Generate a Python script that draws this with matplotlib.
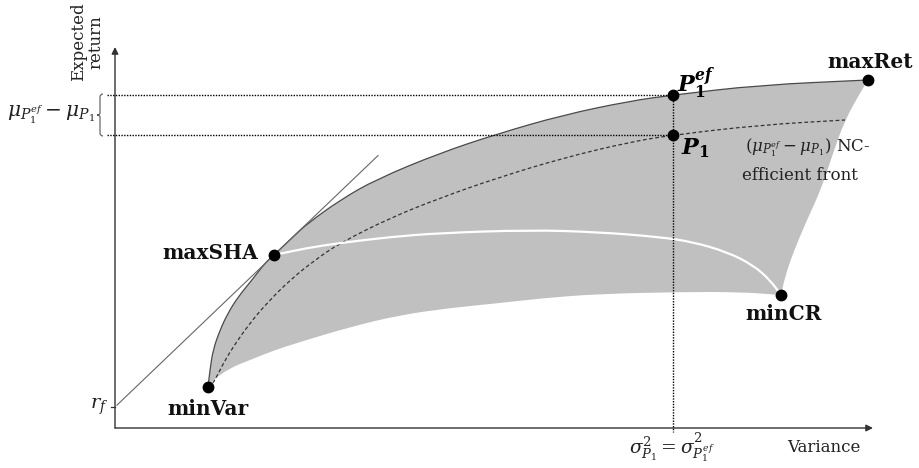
import numpy as np
import matplotlib
matplotlib.use("Agg")
import matplotlib.pyplot as plt
from matplotlib.path import Path
from matplotlib.patches import PathPatch

plt.rcParams['font.family'] = ['DejaVu Serif']
plt.rcParams['mathtext.fontset'] = 'dejavuserif'

# variance (x) and expected return (y), arbitrary units
upper_var = [93, 95, 98, 105, 113, 123, 137, 150, 159, 180, 192, 225, 262, 325, 382, 448, 515, 558, 645, 753]
upper_ret = [41, 58, 78, 98, 115, 131, 148, 165, 173, 193, 204, 228, 249, 275, 294, 313, 327, 333, 343, 348]

right_var = [753, 745, 730, 718, 707, 692, 678, 670, 666]
right_ret = [348, 335, 308, 275, 241, 208, 175, 151, 133]

lower_var = [93, 98, 115, 135, 160, 185, 235, 285, 335, 385, 430, 482, 565, 625, 666]
lower_ret = [41, 48, 60, 68, 78, 86, 101, 113, 120, 125, 130, 134, 136, 136, 133]

nc_var = [93, 97, 100, 108, 118, 135, 152, 175, 200, 225, 275, 325, 382, 448, 515, 558, 645, 730]
nc_ret = [41, 44, 48, 64, 81, 105, 125, 148, 168, 185, 210, 230, 250, 270, 286, 293, 303, 308]

cr_var = [159, 192, 225, 275, 325, 415, 482, 545, 578, 612, 638, 655, 666]
cr_ret = [173, 180, 185, 191, 195, 198, 196, 191, 186, 176, 163, 148, 133]

# named portfolios
pt_names = ['minVar', 'maxSHA', 'maxRet', 'minCR']
pt_var = [93, 159, 753, 666]
pt_ret = [41, 173, 348, 133]
p1ef = (558, 333)
p1 = (558, 293)
rf = 21
tangent_end = 263


def smooth(xs, ys):
    # quadratic bezier through the midpoints, the read points act as controls
    pts = np.column_stack([xs, ys]).astype(float)
    verts = [pts[0], (pts[0] + pts[1]) / 2]
    codes = [Path.MOVETO, Path.LINETO]
    for i in range(1, len(pts) - 1):
        verts += [pts[i], (pts[i] + pts[i + 1]) / 2]
        codes += [Path.CURVE3, Path.CURVE3]
    verts.append(pts[-1])
    codes.append(Path.LINETO)
    return verts, codes


fig = plt.figure(figsize=(9.2, 4.68), dpi=100)
ax = fig.add_axes([0, 0, 1, 1])
ax.set_xlim(-115, 805)
ax.set_ylim(-40, 428)
ax.axis('off')

# shaded feasible region
v1, c1 = smooth(upper_var, upper_ret)
v2, c2 = smooth(right_var, right_ret)
v3, c3 = smooth(lower_var[::-1], lower_ret[::-1])
verts = v1 + v2 + v3 + [v1[0]]
codes = c1 + [Path.LINETO] + c2[1:] + [Path.LINETO] + c3[1:] + [Path.CLOSEPOLY]
ax.add_patch(PathPatch(Path(verts, codes), facecolor='#c0c0c0', edgecolor='none', zorder=1))

v, c = smooth(upper_var, upper_ret)
ax.add_patch(PathPatch(Path(v, c), fill=False, edgecolor='#4a4a4a', lw=0.9, zorder=2))
v, c = smooth(nc_var, nc_ret)
ax.add_patch(PathPatch(Path(v, c), fill=False, edgecolor='#333333', lw=0.9,
                       linestyle=(0, (3, 2)), zorder=2))
v, c = smooth(cr_var, cr_ret)
ax.add_patch(PathPatch(Path(v, c), fill=False, edgecolor='white', lw=1.6, zorder=2))

# capital market line through maxSHA
slope = (pt_ret[1] - rf) / pt_var[1]
tx = np.array([2, tangent_end])
ax.plot(tx, rf + slope * tx, color='#666666', lw=0.8, zorder=3)

# axes with arrows
ax.annotate('', xy=(0, 381), xytext=(0, 0),
            arrowprops=dict(arrowstyle='-|>', color='#333333', lw=1.0,
                            mutation_scale=10, shrinkA=0, shrinkB=0))
ax.annotate('', xy=(758, 0), xytext=(0, 0),
            arrowprops=dict(arrowstyle='-|>', color='#333333', lw=1.0,
                            mutation_scale=10, shrinkA=0, shrinkB=0))
ax.plot([-4, 0], [rf, rf], color='#333333', lw=0.9)

# dotted guides
dot = dict(color='black', lw=1.0, linestyle=(0, (1, 1)), zorder=3)
ax.plot([-8, p1ef[0]], [p1ef[1], p1ef[1]], **dot)
ax.plot([-8, p1[0]], [p1[1], p1[1]], **dot)
ax.plot([p1ef[0], p1ef[0]], [p1ef[1], -4], **dot)

# brace
bv = [(-12, p1ef[1] + 1), (-15, p1ef[1] + 1), (-15, p1ef[1] - 2),
      (-15, 315), (-15, 313), (-18, 313),
      (-15, 313), (-15, 311),
      (-15, p1[1] + 2), (-15, p1[1] - 1), (-12, p1[1] - 1)]
bc = [Path.MOVETO, Path.CURVE3, Path.CURVE3, Path.LINETO,
      Path.CURVE3, Path.CURVE3, Path.CURVE3, Path.CURVE3,
      Path.LINETO, Path.CURVE3, Path.CURVE3]
ax.add_patch(PathPatch(Path(bv, bc), fill=False, edgecolor='#555555', lw=0.8))

# markers
ax.plot(pt_var + [p1ef[0], p1[0]], pt_ret + [p1ef[1], p1[1]], 'o',
        color='black', ms=7.5, zorder=5)

bold = dict(fontsize=14.5, fontweight='bold', color='#111111')
ax.text(pt_var[0], 19, pt_names[0], ha='center', va='center', **bold)
ax.text(143, 175, pt_names[1], ha='right', va='center', **bold)
ax.text(755, 366, pt_names[2], ha='center', va='center', **bold)
ax.text(669, 114, pt_names[3], ha='center', va='center', **bold)

ax.text(562, 345, r'$\mathbfit{P}_{\mathbf{1}}^{\mathbfit{ef}}$', fontsize=16,
        ha='left', va='center')
ax.text(566, 280, r'$\mathbfit{P}_{\mathbf{1}}$', fontsize=16,
        ha='left', va='center')

reg = dict(fontsize=12, color='#222222')
ax.text(630, 280, r'$(\mu_{P_1^{ef}} - \mu_{P_1})$ NC-', ha='left', va='center', **reg)
ax.text(627, 253, 'efficient front', ha='left', va='center', **reg)
ax.text(-20, 313, r'$\mu_{P_1^{ef}} - \mu_{P_1}$', ha='right', va='center',
        fontsize=14.5, color='#222222')
ax.text(-7, rf, r'$r_f$', ha='right', va='center', fontsize=14, color='#222222')
ax.text(557, -19, r'$\sigma^2_{P_1} = \sigma^2_{P_1^{ef}}$', ha='center', va='center',
        fontsize=13.5, color='#222222')
ax.text(709, -19, 'Variance', ha='center', va='center', **reg)
ax.text(-28, 386, 'Expected\nreturn', rotation=90, ha='center', va='center',
        multialignment='center', linespacing=1.0, **reg)

fig.savefig('out.png', dpi=100)
